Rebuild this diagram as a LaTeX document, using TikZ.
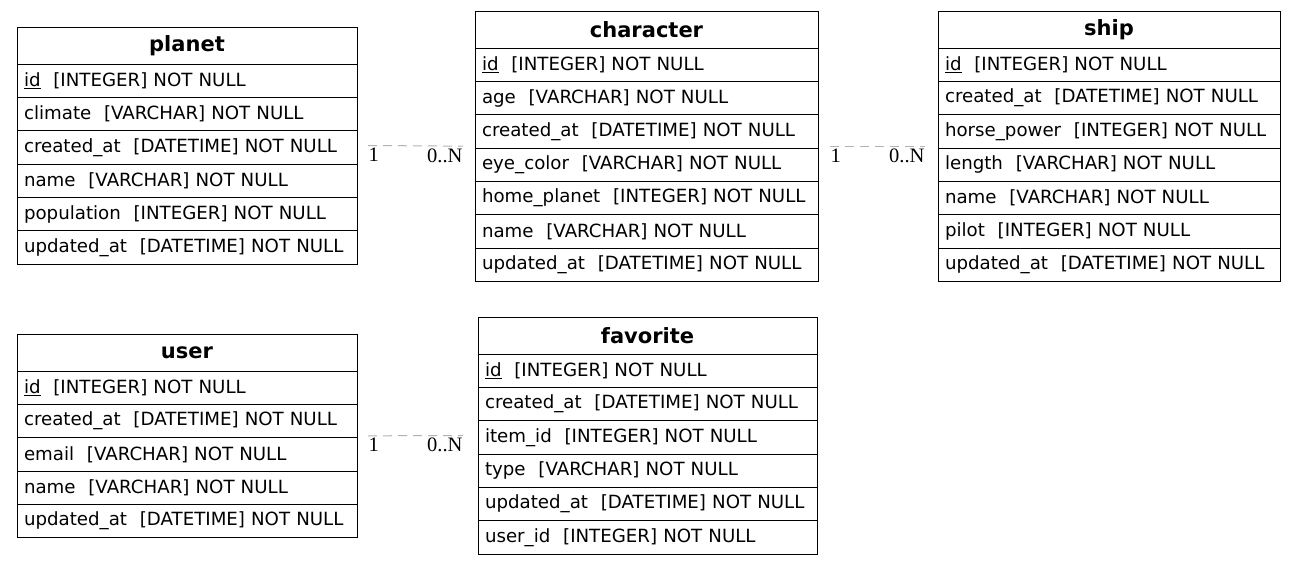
\documentclass[tikz,border=0pt]{standalone}
\usepackage{fontspec}
\setmainfont{DejaVu Sans}
\newfontfamily\relfont{Liberation Serif}
\usetikzlibrary{positioning, fit}

\tikzset{
  tblhead/.style={draw, anchor=north west, inner sep=0pt, outer sep=0pt,
    minimum height=37pt, align=center, font=\fontsize{21}{25}\selectfont\bfseries},
  tblrow/.style={draw, inner xsep=7pt, inner ysep=0pt, outer sep=0pt,
    minimum height=33.33pt, align=left, font=\fontsize{18.2}{21}\selectfont},
  tblfit/.style={inner sep=0pt, outer sep=0pt},
  rel/.style={draw=gray!60, dash pattern=on 9pt off 6pt, line width=1pt},
  card/.style={font=\fontsize{20.5}{24}\selectfont\relfont, inner sep=0pt, text=black}
}

\newcommand{\fld}[2]{#1\hspace{0.7em}[#2] NOT NULL}
\newcommand{\pk}{\underline{id}\hspace{0.7em}[INTEGER] NOT NULL}

% table: name, x, y, width, rows
\newcommand{\ertable}[5]{%
  \pgfmathsetlengthmacro\rowtw{#4pt-14pt}
  \node[tblhead, minimum width=#4pt, text width=#4pt] (#1-0) at (#2,#3) {#1};
  \foreach \f [count=\i, remember=\i as \j (initially 0)] in {#5}
    \node[tblrow, text width=\rowtw, below=0pt of #1-\j] (#1-\i) {\f};
}

\begin{document}
\begin{tikzpicture}[x=1pt, y=-1pt]
  \useasboundingbox (0,0) rectangle (1296,565);

  \ertable{planet}{17}{27}{340}{\pk, \fld{climate}{VARCHAR}, \fld{created\_at}{DATETIME},
    \fld{name}{VARCHAR}, \fld{population}{INTEGER}, \fld{updated\_at}{DATETIME}}
  \node[tblfit, fit=(planet-0)(planet-6)] (planet) {};

  \ertable{character}{475}{11}{343}{\pk, \fld{age}{VARCHAR}, \fld{created\_at}{DATETIME},
    \fld{eye\_color}{VARCHAR}, \fld{home\_planet}{INTEGER}, \fld{name}{VARCHAR},
    \fld{updated\_at}{DATETIME}}
  \node[tblfit, fit=(character-0)(character-7)] (character) {};

  \ertable{ship}{938}{11}{342}{\pk, \fld{created\_at}{DATETIME}, \fld{horse\_power}{INTEGER},
    \fld{length}{VARCHAR}, \fld{name}{VARCHAR}, \fld{pilot}{INTEGER},
    \fld{updated\_at}{DATETIME}}
  \node[tblfit, fit=(ship-0)(ship-7)] (ship) {};

  \ertable{user}{17}{334}{340}{\pk, \fld{created\_at}{DATETIME}, \fld{email}{VARCHAR},
    \fld{name}{VARCHAR}, \fld{updated\_at}{DATETIME}}
  \node[tblfit, fit=(user-0)(user-5)] (user) {};

  \ertable{favorite}{478}{317}{339}{\pk, \fld{created\_at}{DATETIME}, \fld{item\_id}{INTEGER},
    \fld{type}{VARCHAR}, \fld{updated\_at}{DATETIME}, \fld{user\_id}{INTEGER}}
  \node[tblfit, fit=(favorite-0)(favorite-6)] (favorite) {};

  % relations
  \draw[rel] ([xshift=11pt]planet.east) -- ([xshift=-12pt]character.west)
    node[card, pos=0, anchor=north west, yshift=-2pt] {1}
    node[card, pos=1, anchor=north east, yshift=-2pt] {0..N};
  \draw[rel] ([xshift=12pt]character.east) -- ([xshift=-13pt]ship.west)
    node[card, pos=0, anchor=north west, yshift=-2pt] {1}
    node[card, pos=1, anchor=north east, yshift=-2pt] {0..N};
  \draw[rel] ([xshift=11pt]user.east) -- ([xshift=-15pt]favorite.west)
    node[card, pos=0, anchor=north west, yshift=-2pt] {1}
    node[card, pos=1, anchor=north east, yshift=-2pt] {0..N};
\end{tikzpicture}
\end{document}
